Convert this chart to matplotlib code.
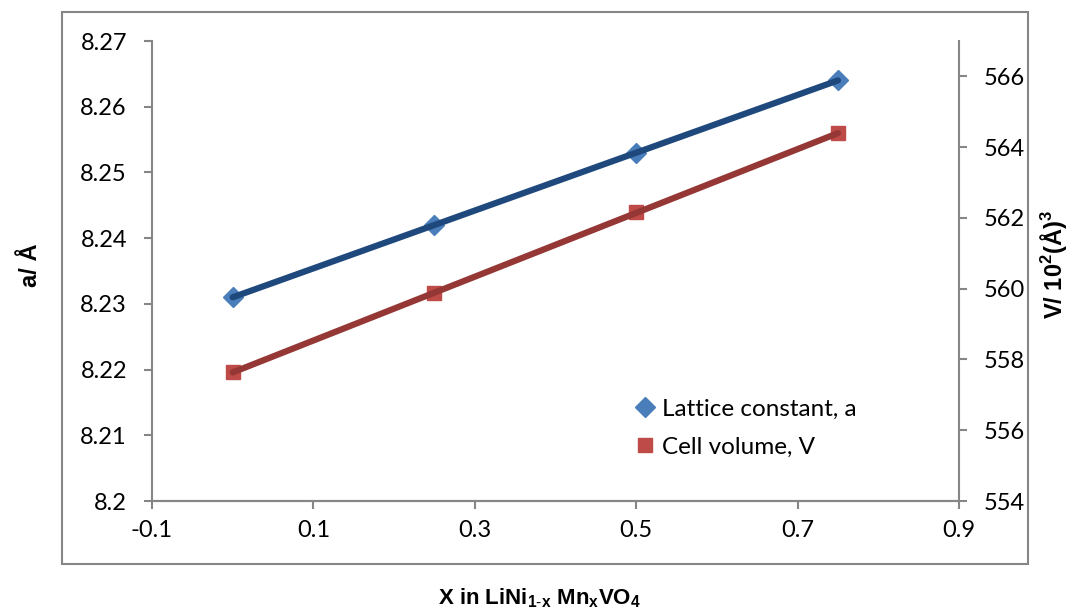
import numpy as np
import matplotlib.pyplot as plt
from matplotlib.patches import Rectangle

# values
x_comp = [0.0, 0.25, 0.5, 0.75]
lattice_a = [8.231, 8.242, 8.253, 8.264]
cell_v = [557.64, 559.87, 562.16, 564.39]

x_ticks = [-0.1, 0.1, 0.3, 0.5, 0.7, 0.9]
a_ticks = [8.2, 8.21, 8.22, 8.23, 8.24, 8.25, 8.26, 8.27]
v_ticks = [554, 556, 558, 560, 562, 564, 566]

plt.rcParams['mathtext.fontset'] = 'custom'
plt.rcParams['mathtext.rm'] = 'Liberation Sans'
plt.rcParams['mathtext.bf'] = 'Liberation Sans:bold'

GRAY = '#868686'
TICK_FONT = 'Lato'

fig = plt.figure(figsize=(10.77, 6.14), dpi=100)
ax = fig.add_axes([0.1411, 0.1840, 0.7493, 0.7492])
ax2 = ax.twinx()

# outer chart box
fig.patches.append(Rectangle((0.0576, 0.0814), 0.897, 0.899, transform=fig.transFigure,
                             fill=False, edgecolor=GRAY, linewidth=1.5))

# markers
ax.plot(x_comp, lattice_a, linestyle='none', marker='D', markersize=10,
        color='#4a7ebb', label='Lattice constant, a', zorder=2)
ax2.plot(x_comp, cell_v, linestyle='none', marker='s', markersize=10,
         color='#be4b48', label='Cell volume, V', zorder=2)

# linear trendlines on top of the markers
xs = np.array([x_comp[0], x_comp[-1]])
pa = np.polyfit(x_comp, lattice_a, 1)
pv = np.polyfit(x_comp, cell_v, 1)
ax.plot(xs, np.polyval(pa, xs), color='#1f497d', linewidth=4.5,
        solid_capstyle='round', zorder=3)
ax2.plot(xs, np.polyval(pv, xs), color='#953735', linewidth=4.5,
         solid_capstyle='round', zorder=3)

ax.set_xlim(-0.1, 0.9)
ax.set_ylim(8.2, 8.27)
ax2.set_ylim(554, 567)
ax.set_xticks(x_ticks)
ax.set_xticklabels([f'{t:g}' for t in x_ticks])
ax.set_yticks(a_ticks)
ax.set_yticklabels([f'{t:g}' for t in a_ticks])
ax2.set_yticks(v_ticks)

for a in (ax, ax2):
    a.spines['top'].set_visible(False)
    for s in a.spines.values():
        s.set_color(GRAY)
        s.set_linewidth(1.5)
    a.tick_params(axis='both', direction='out', length=6, width=1.5, color=GRAY,
                  labelsize=17, pad=8)
    for lbl in a.get_xticklabels() + a.get_yticklabels():
        lbl.set_fontfamily(TICK_FONT)
ax2.spines['left'].set_visible(False)
ax.spines['right'].set_visible(False)
ax.tick_params(axis='y', pad=12)
ax2.tick_params(axis='y', pad=12)

fig.text(0.028, 0.568, 'a/ Å', rotation=90, ha='center', va='center',
         fontsize=17, fontweight='bold', family='Liberation Sans')
fig.text(0.978, 0.57, r'V/ 10$^{\mathbf{2}}$(Å)$^{\mathbf{3}}$', rotation=90,
         ha='center', va='center', fontsize=17, fontweight='bold', family='Liberation Sans')
fig.text(0.501, 0.026, r'X in LiNi$_{\mathbf{1\text{-}x}}$ Mn$_{\mathbf{x}}$VO$_{\mathbf{4}}$',
         ha='center', va='center', fontsize=16, fontweight='bold', family='Liberation Sans')

h1, l1 = ax.get_legend_handles_labels()
h2, l2 = ax2.get_legend_handles_labels()
leg = ax2.legend(h1 + h2, l1 + l2, loc='upper left', bbox_to_anchor=(0.572, 0.27),
                 frameon=False, handlelength=0.8, handletextpad=0.3,
                 labelspacing=0.7, prop={'family': TICK_FONT, 'size': 17.5})

fig.savefig('out.png', dpi=100)
